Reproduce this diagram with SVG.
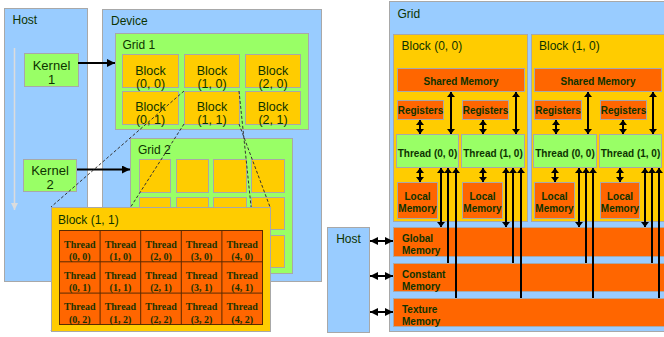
<svg xmlns="http://www.w3.org/2000/svg" width="664" height="337" viewBox="0 0 664 337">
<style>
.bl{fill:#99CCFF;stroke:#A8A8A8;stroke-width:1}
.gr{fill:#99FF66;stroke:#A8A8A8;stroke-width:1}
.ye{fill:#FFCC00;stroke:#A8A8A8;stroke-width:1}
.or{fill:#FF6600;stroke:#A8A8A8;stroke-width:1}
text{font-family:"Liberation Sans",Arial,sans-serif;fill:#0D3300}
.t12{font-size:12px}
.t13{font-size:13px}
.tb{font-size:12.5px}
.b10{font-size:10px;font-weight:bold}
.c{text-anchor:middle}
.th{font-family:"Liberation Serif","Times New Roman",serif;font-size:10px;font-weight:bold;text-anchor:middle;fill:#1A3300}
.ar{stroke:#000;stroke-width:2;fill:none}
.da{stroke:#333;stroke-width:1;stroke-dasharray:3,2;fill:none}
.tl{stroke:#5A2A00;stroke-width:1;fill:none}
</style>
<defs>
<marker id="ah" viewBox="0 0 8 8" refX="8" refY="4" markerWidth="8" markerHeight="8" markerUnits="userSpaceOnUse" orient="auto-start-reverse"><path d="M0,0 L8,4 L0,8 z" fill="#000"/></marker>
<marker id="as" viewBox="0 0 5 8" refX="5" refY="4" markerWidth="5" markerHeight="8" markerUnits="userSpaceOnUse" orient="auto-start-reverse"><path d="M0,0 L5,4 L0,8 z" fill="#000"/></marker>
<marker id="hl" viewBox="0 0 8 8" refX="8" refY="4" markerWidth="7" markerHeight="7" markerUnits="userSpaceOnUse" orient="auto"><path d="M0,0 L8,4 L0,8 z" fill="#DCDCDC"/></marker>
</defs>

<!-- LEFT: Host / Device -->
<g id="host-left">
<rect class="bl" x="4.5" y="8.5" width="83" height="273"/>
<text class="t12" x="12.5" y="23.5">Host</text>
<line x1="14.5" y1="48" x2="14.5" y2="210" stroke="#DCDCDC" stroke-width="1.5" marker-end="url(#hl)"/>
</g>
<g id="device">
<rect class="bl" x="102.5" y="9.5" width="219" height="272"/>
<text class="t12" x="111" y="24.5">Device</text>
</g>
<g id="grid1">
<rect class="gr" x="115.5" y="33.5" width="193" height="96"/>
<text class="t12" x="122.5" y="48.5">Grid 1</text>
<g id="g1-b00"><rect class="ye" x="122.5" y="54.5" width="56" height="33"/><text class="tb c" x="150.5" y="74.5">Block</text><text class="tb c" x="150.5" y="87.5">(0, 0)</text></g>
<g id="g1-b10"><rect class="ye" x="184.5" y="54.5" width="55" height="33"/><text class="tb c" x="212" y="74.5">Block</text><text class="tb c" x="212" y="87.5">(1, 0)</text></g>
<g id="g1-b20"><rect class="ye" x="245.5" y="54.5" width="55" height="33"/><text class="tb c" x="273" y="74.5">Block</text><text class="tb c" x="273" y="87.5">(2, 0)</text></g>
<g id="g1-b01"><rect class="ye" x="122.5" y="91.5" width="56" height="33"/><text class="tb c" x="150.5" y="111">Block</text><text class="tb c" x="150.5" y="124">(0, 1)</text></g>
<g id="g1-b11"><rect class="ye" x="184.5" y="91.5" width="55" height="33"/><text class="tb c" x="212" y="111">Block</text><text class="tb c" x="212" y="124">(1, 1)</text></g>
<g id="g1-b21"><rect class="ye" x="245.5" y="91.5" width="55" height="33"/><text class="tb c" x="273" y="111">Block</text><text class="tb c" x="273" y="124">(2, 1)</text></g>
</g>
<g id="grid2">
<rect class="gr" x="130.5" y="138.5" width="162" height="135"/>
<text class="t12" x="138" y="153.5">Grid 2</text>
<rect class="ye" x="139.5" y="159.5" width="31" height="33"/><rect class="ye" x="176.5" y="159.5" width="32" height="33"/><rect class="ye" x="213.5" y="159.5" width="33" height="33"/><rect class="ye" x="251.5" y="159.5" width="33" height="33"/>
<rect class="ye" x="139.5" y="197.5" width="31" height="32"/><rect class="ye" x="176.5" y="197.5" width="32" height="32"/><rect class="ye" x="213.5" y="197.5" width="33" height="32"/><rect class="ye" x="251.5" y="197.5" width="33" height="32"/>
<rect class="ye" x="139.5" y="235.5" width="31" height="32"/><rect class="ye" x="176.5" y="235.5" width="32" height="32"/><rect class="ye" x="213.5" y="235.5" width="33" height="32"/><rect class="ye" x="251.5" y="235.5" width="33" height="32"/>
</g>
<g id="kernel1">
<rect class="gr" x="24.5" y="53.5" width="54" height="33"/>
<text class="t13 c" x="51.5" y="69.5">Kernel</text><text class="t13 c" x="51.5" y="83.5">1</text>
</g>
<g id="kernel2">
<rect class="gr" x="23.5" y="159.5" width="53" height="32"/>
<text class="t13 c" x="50" y="175">Kernel</text><text class="t13 c" x="50" y="189">2</text>
</g>

<g id="connectors-left">
<line class="ar" x1="78" y1="63" x2="115" y2="63" marker-end="url(#ah)"/>
<line class="ar" x1="77" y1="169.5" x2="130" y2="169.5" marker-end="url(#ah)"/>
<line class="da" x1="184" y1="91" x2="51" y2="207"/>
<line class="da" x1="184" y1="124" x2="51" y2="331"/>
<line class="da" x1="239" y1="124" x2="270" y2="207"/>
<line class="da" x1="239" y1="91" x2="264" y2="331"/>
</g>

<g id="block11">
<rect class="ye" x="51.5" y="207.5" width="219" height="124"/>
<text class="t12" x="58" y="223.5">Block (1, 1)</text>
<rect x="59.5" y="230.5" width="203" height="94" fill="#FF6600" stroke="#5A2A00" stroke-width="1"/>
<path class="tl" d="M100.1,230.5V324.5M140.7,230.5V324.5M181.3,230.5V324.5M221.9,230.5V324.5M59.5,261.8H262.5M59.5,293.1H262.5"/>
<text class="th" x="79.8" y="247.5">Thread</text><text class="th" x="79.8" y="260">(0, 0)</text>
<text class="th" x="120.4" y="247.5">Thread</text><text class="th" x="120.4" y="260">(1, 0)</text>
<text class="th" x="161" y="247.5">Thread</text><text class="th" x="161" y="260">(2, 0)</text>
<text class="th" x="201.6" y="247.5">Thread</text><text class="th" x="201.6" y="260">(3, 0)</text>
<text class="th" x="242.2" y="247.5">Thread</text><text class="th" x="242.2" y="260">(4, 0)</text>
<text class="th" x="79.8" y="278.8">Thread</text><text class="th" x="79.8" y="291.3">(0, 1)</text>
<text class="th" x="120.4" y="278.8">Thread</text><text class="th" x="120.4" y="291.3">(1, 1)</text>
<text class="th" x="161" y="278.8">Thread</text><text class="th" x="161" y="291.3">(2, 1)</text>
<text class="th" x="201.6" y="278.8">Thread</text><text class="th" x="201.6" y="291.3">(3, 1)</text>
<text class="th" x="242.2" y="278.8">Thread</text><text class="th" x="242.2" y="291.3">(4, 1)</text>
<text class="th" x="79.8" y="310.1">Thread</text><text class="th" x="79.8" y="322.6">(0, 2)</text>
<text class="th" x="120.4" y="310.1">Thread</text><text class="th" x="120.4" y="322.6">(1, 2)</text>
<text class="th" x="161" y="310.1">Thread</text><text class="th" x="161" y="322.6">(2, 2)</text>
<text class="th" x="201.6" y="310.1">Thread</text><text class="th" x="201.6" y="322.6">(3, 2)</text>
<text class="th" x="242.2" y="310.1">Thread</text><text class="th" x="242.2" y="322.6">(4, 2)</text>
</g>

<!-- RIGHT: memory model -->
<g id="grid">
<rect class="bl" x="389.5" y="1.5" width="290" height="330"/>
<text class="t12" x="397.5" y="17.5">Grid</text>
</g>
<g id="rblock00">
<rect class="ye" x="393.5" y="34.5" width="134" height="187"/>
<text class="t12" x="401.5" y="49.5">Block (0, 0)</text>
<rect class="or" x="397.5" y="68.5" width="127" height="23"/><text class="b10 c" x="461" y="85">Shared Memory</text>
<rect class="or" x="397.5" y="100.5" width="46" height="19"/><text class="b10 c" x="420.5" y="113.5">Registers</text>
<rect class="or" x="462.5" y="100.5" width="46" height="19"/><text class="b10 c" x="485.5" y="113.5">Registers</text>
<rect class="gr" x="396.5" y="134.5" width="62" height="33"/><text class="b10 c" x="427.5" y="157">Thread (0, 0)</text>
<rect class="gr" x="461.5" y="134.5" width="63" height="33"/><text class="b10 c" x="493" y="157">Thread (1, 0)</text>
<rect class="or" x="397.5" y="182.5" width="40" height="36"/><text class="b10 c" x="417.5" y="199.5">Local</text><text class="b10 c" x="417.5" y="211.5">Memory</text>
<rect class="or" x="462.5" y="182.5" width="40" height="36"/><text class="b10 c" x="482.5" y="199.5">Local</text><text class="b10 c" x="482.5" y="211.5">Memory</text>
</g>
<g id="rblock10">
<rect class="ye" x="531.5" y="34.5" width="150" height="187"/>
<text class="t12" x="539" y="49.5">Block (1, 0)</text>
<rect class="or" x="534.5" y="68.5" width="127" height="23"/><text class="b10 c" x="598" y="85">Shared Memory</text>
<rect class="or" x="534.5" y="100.5" width="47" height="19"/><text class="b10 c" x="558" y="113.5">Registers</text>
<rect class="or" x="600.5" y="100.5" width="46" height="19"/><text class="b10 c" x="623.5" y="113.5">Registers</text>
<rect class="gr" x="533.5" y="134.5" width="63" height="33"/><text class="b10 c" x="565" y="157">Thread (0, 0)</text>
<rect class="gr" x="599.5" y="134.5" width="62" height="33"/><text class="b10 c" x="630.5" y="157">Thread (1, 0)</text>
<rect class="or" x="534.5" y="182.5" width="40" height="36"/><text class="b10 c" x="554.5" y="199.5">Local</text><text class="b10 c" x="554.5" y="211.5">Memory</text>
<rect class="or" x="600.5" y="182.5" width="39" height="36"/><text class="b10 c" x="620" y="199.5">Local</text><text class="b10 c" x="620" y="211.5">Memory</text>
</g>
<g id="global-memory"><rect class="or" x="393.5" y="227.5" width="290" height="29"/><text class="b10" x="402" y="241.5">Global</text><text class="b10" x="402" y="254">Memory</text></g>
<g id="constant-memory"><rect class="or" x="393.5" y="263.5" width="290" height="28"/><text class="b10" x="402" y="277.5">Constant</text><text class="b10" x="402" y="290">Memory</text></g>
<g id="texture-memory"><rect class="or" x="393.5" y="298.5" width="290" height="28"/><text class="b10" x="402" y="312.5">Texture</text><text class="b10" x="402" y="325">Memory</text></g>
<g id="host-right"><rect class="bl" x="327.5" y="227.5" width="42" height="105"/><text class="t12 c" x="348.5" y="243">Host</text></g>

<g id="connectors-right">
<line class="ar" x1="370" y1="241" x2="393" y2="241" marker-start="url(#ah)" marker-end="url(#ah)"/>
<line class="ar" x1="370" y1="276" x2="393" y2="276" marker-start="url(#ah)" marker-end="url(#ah)"/>
<line class="ar" x1="370" y1="312" x2="393" y2="312" marker-start="url(#ah)" marker-end="url(#ah)"/>
<g transform="translate(396,0)">
<line class="ar" x1="24" y1="120" x2="24" y2="134" marker-start="url(#as)" marker-end="url(#as)"/>
<line class="ar" x1="55" y1="92" x2="55" y2="134" marker-start="url(#as)" marker-end="url(#as)"/>
<line class="ar" x1="24" y1="168" x2="24" y2="182" marker-start="url(#as)" marker-end="url(#as)"/>
<line class="ar" x1="45" y1="168" x2="45" y2="227" marker-start="url(#as)" marker-end="url(#as)"/>
<line class="ar" x1="52" y1="263" x2="52" y2="168" marker-end="url(#as)"/>
<line class="ar" x1="60" y1="298" x2="60" y2="168" marker-end="url(#as)"/>
</g>
<g transform="translate(461,0)">
<line class="ar" x1="22" y1="120" x2="22" y2="134" marker-start="url(#as)" marker-end="url(#as)"/>
<line class="ar" x1="55" y1="92" x2="55" y2="134" marker-start="url(#as)" marker-end="url(#as)"/>
<line class="ar" x1="22" y1="168" x2="22" y2="182" marker-start="url(#as)" marker-end="url(#as)"/>
<line class="ar" x1="45" y1="168" x2="45" y2="227" marker-start="url(#as)" marker-end="url(#as)"/>
<line class="ar" x1="52" y1="263" x2="52" y2="168" marker-end="url(#as)"/>
<line class="ar" x1="60" y1="298" x2="60" y2="168" marker-end="url(#as)"/>
</g>
<g transform="translate(533,0)">
<line class="ar" x1="23" y1="120" x2="23" y2="134" marker-start="url(#as)" marker-end="url(#as)"/>
<line class="ar" x1="55" y1="92" x2="55" y2="134" marker-start="url(#as)" marker-end="url(#as)"/>
<line class="ar" x1="22" y1="168" x2="22" y2="182" marker-start="url(#as)" marker-end="url(#as)"/>
<line class="ar" x1="46" y1="168" x2="46" y2="227" marker-start="url(#as)" marker-end="url(#as)"/>
<line class="ar" x1="53" y1="263" x2="53" y2="168" marker-end="url(#as)"/>
<line class="ar" x1="60" y1="298" x2="60" y2="168" marker-end="url(#as)"/>
</g>
<g transform="translate(599,0)">
<line class="ar" x1="24" y1="120" x2="24" y2="134" marker-start="url(#as)" marker-end="url(#as)"/>
<line class="ar" x1="54" y1="92" x2="54" y2="134" marker-start="url(#as)" marker-end="url(#as)"/>
<line class="ar" x1="21" y1="168" x2="21" y2="182" marker-start="url(#as)" marker-end="url(#as)"/>
<line class="ar" x1="46" y1="168" x2="46" y2="227" marker-start="url(#as)" marker-end="url(#as)"/>
<line class="ar" x1="53" y1="263" x2="53" y2="168" marker-end="url(#as)"/>
<line class="ar" x1="60" y1="298" x2="60" y2="168" marker-end="url(#as)"/>
</g>
</g>
</svg>
